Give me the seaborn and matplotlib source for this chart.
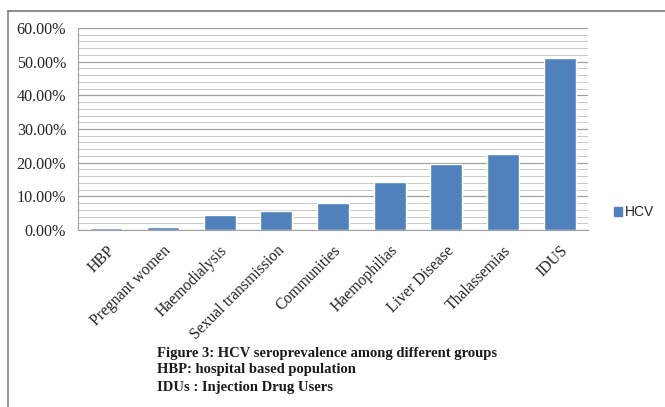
import matplotlib
matplotlib.use("Agg")
import matplotlib.pyplot as plt
import seaborn as sns
import pandas as pd
from matplotlib.lines import Line2D
from matplotlib.ticker import MultipleLocator, FuncFormatter

groups = ["HBP", "Pregnant women", "Haemodialysis", "Sexual transmission",
          "Communities", "Haemophilias", "Liver Disease", "Thalassemias", "IDUS"]
hcv = [0.5, 0.9, 4.5, 5.7, 7.9, 14.2, 19.6, 22.6, 51.1]
y_ticks = [0, 10, 20, 30, 40, 50, 60]
caption = ["Figure 3: HCV seroprevalence among different groups",
           "HBP: hospital based population",
           "IDUs : Injection Drug Users"]

df = pd.DataFrame({"group": groups, "value": hcv, "series": "HCV"})

sns.set_style("white")
plt.rcParams["font.family"] = ["Liberation Serif", "DejaVu Serif"]

fig = plt.figure(figsize=(6.65, 4.07), dpi=100)
ax = fig.add_axes([78 / 665, 1 - 230 / 407, (588 - 78) / 665, (230 - 28) / 407])

bar_color = "#4F81BD"
sns.barplot(data=df, x="group", y="value", hue="series", palette=[bar_color],
            width=0.57, ax=ax, legend=False, saturation=1, zorder=3)

ax.set_ylim(0, 60)
ax.set_xlim(-0.5, len(groups) - 0.5)
ax.yaxis.set_major_locator(MultipleLocator(10))
ax.yaxis.set_minor_locator(MultipleLocator(2))
ax.set_yticks(y_ticks)
ax.yaxis.set_major_formatter(FuncFormatter(lambda v, p: f"{v:.2f}%"))
ax.grid(which="major", axis="y", color="#A0A0A0", linewidth=0.9, zorder=0)
ax.grid(which="minor", axis="y", color="#C8C8C8", linewidth=0.7, zorder=0)
ax.set_axisbelow(True)
for s in ["top", "right"]:
    ax.spines[s].set_visible(False)
ax.spines["left"].set_color("#A0A0A0")
ax.spines["bottom"].set_color("#A0A0A0")
ax.spines["bottom"].set_zorder(1)
ax.tick_params(axis="y", which="both", length=0, labelsize=11.6, pad=8.5)
ax.tick_params(axis="x", length=0, labelsize=11.3, pad=9)
ax.set_xticks(range(len(groups)))
ax.set_xticklabels(groups, rotation=45, ha="right", rotation_mode="anchor")
ax.set_xlabel("")
ax.set_ylabel("")

handle = [plt.Rectangle((0, 0), 1, 1, color=bar_color)]
fig.legend(handle, ["HCV"], loc="center left", bbox_to_anchor=(601 / 665, 1 - 212 / 407),
           frameon=False, handlelength=0.6, handleheight=0.6, handletextpad=0.25,
           prop={"family": "Liberation Sans", "size": 10})

# chart frame (left and top edges)
fig.add_artist(Line2D([8 / 665, 8 / 665], [0, 1 - 11 / 407], color="#9A9A9A", lw=1.5,
                      transform=fig.transFigure))
fig.add_artist(Line2D([8 / 665, 1], [1 - 11 / 407, 1 - 11 / 407], color="#7A7A7A", lw=1.2,
                      transform=fig.transFigure))

for i, line in enumerate(caption):
    fig.text(157 / 665, 1 - (353 + i * 17) / 407, line, fontsize=10.5, fontweight="bold",
             va="center", ha="left", color="#1a1a1a")

fig.savefig("out.png", dpi=100)
